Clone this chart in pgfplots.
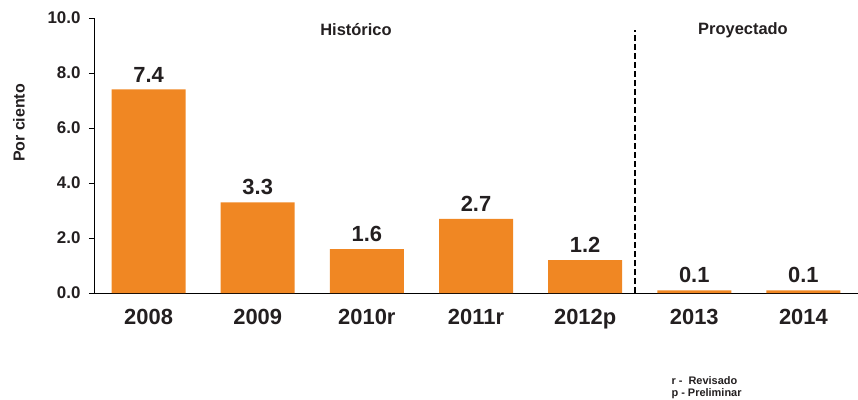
\documentclass[border=0pt]{standalone}
\usepackage{pgfplots}
\pgfplotsset{compat=1.18}
\usepackage{fontspec}
\setmainfont{Liberation Sans}
\definecolor{barorange}{RGB}{240,135,35}
\definecolor{txt}{RGB}{35,31,32}
\begin{document}
\begin{tikzpicture}
\useasboundingbox (-94bp,-107bp) rectangle (764bp,293bp);
\begin{axis}[
    scale only axis,
    width=764bp, height=275bp,
    xmin=-0.5, xmax=6.5,
    ymin=0, ymax=10,
    axis lines=left,
    axis line style={-, line width=1bp, black},
    ybar, bar width=0.678,
    xtick={0,...,6},
    xticklabels={2008,2009,2010r,2011r,2012p,2013,2014},
    x tick style={draw=none},
    xticklabel style={font=\fontsize{22}{26}\selectfont\bfseries, text=txt, yshift=-8bp},
    ytick={0,2,...,10},
    y tick style={black, line width=0.6bp},
    tick align=outside,
    major tick length=5bp,
    yticklabel style={font=\fontsize{17}{20}\selectfont\bfseries, text=txt, xshift=-5bp},
    /pgf/number format/assume math mode=true,
    yticklabel={\pgfmathprintnumber[fixed, fixed zerofill, precision=1]{\tick}},
    nodes near coords={\pgfmathprintnumber[fixed, fixed zerofill, precision=1]{\pgfplotspointmeta}},
    nodes near coords style={font=\fontsize{22}{26}\selectfont\bfseries, text=txt, inner sep=4bp, yshift=3bp},
    clip=false,
]
\addplot[fill=barorange, draw=none] coordinates {
    (0,7.4) (1,3.3) (2,1.6) (3,2.7) (4,1.2) (5,0.1) (6,0.1)
};
\draw[black, line width=1.8bp, dash pattern=on 6bp off 3bp] (axis cs:4.455,0) -- (axis cs:4.455,9.56);
\end{axis}
\node[rotate=90, font=\fontsize{16}{19}\selectfont\bfseries, text=txt] at (-75bp,170bp) {Por ciento};
\node[font=\fontsize{16.5}{19}\selectfont\bfseries, text=txt] at (262bp,263bp) {Histórico};
\node[font=\fontsize{16.5}{19}\selectfont\bfseries, text=txt] at (649bp,263bp) {Proyectado};
\node[anchor=west, font=\fontsize{11}{13}\selectfont\bfseries, text=txt] at (574bp,-88bp) {r -\ \ Revisado};
\node[anchor=west, font=\fontsize{11}{13}\selectfont\bfseries, text=txt] at (574bp,-101bp) {p - Preliminar};
\end{tikzpicture}
\end{document}
